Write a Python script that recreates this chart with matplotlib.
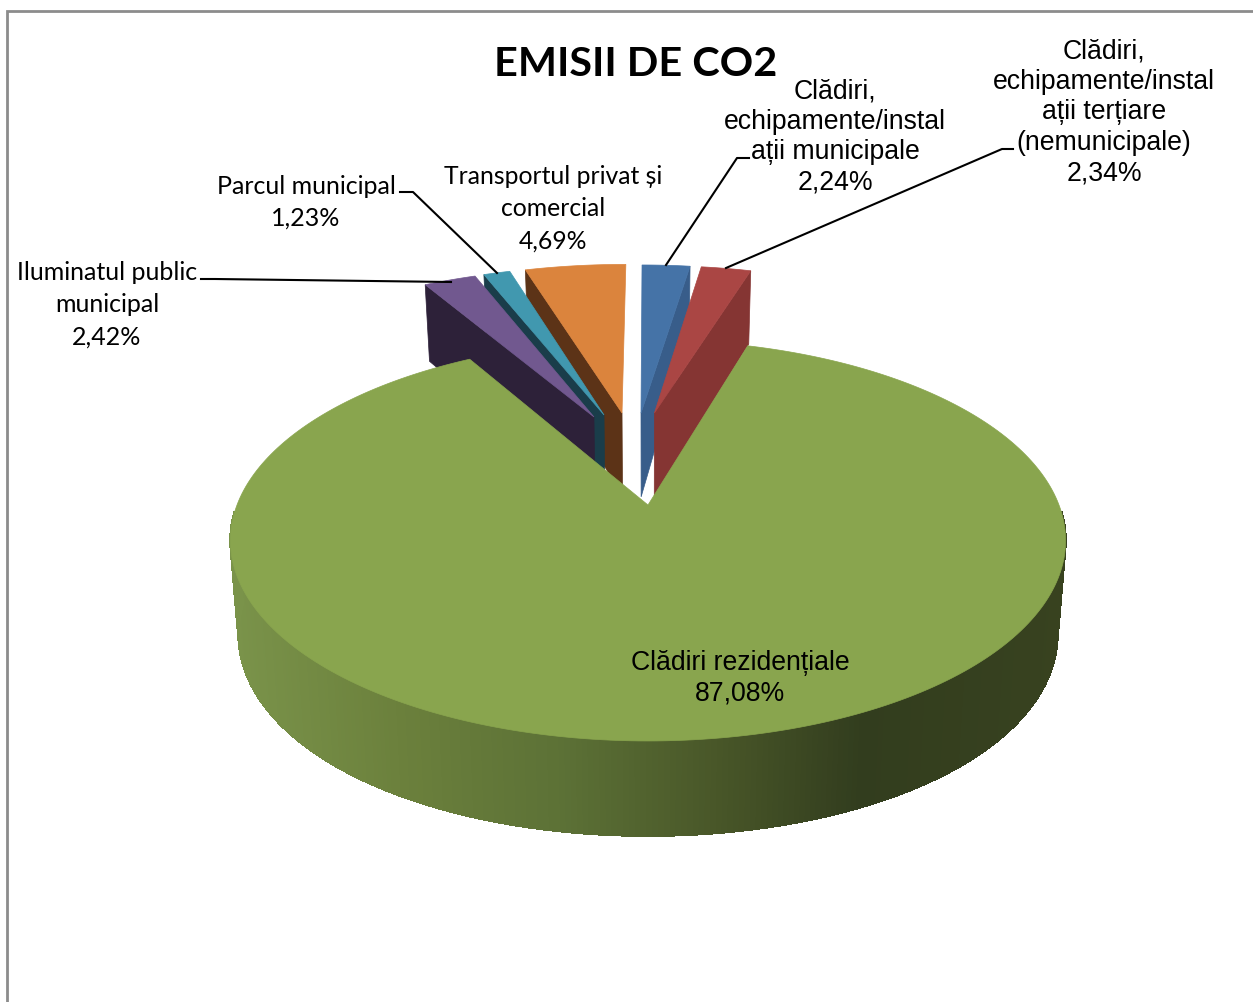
import numpy as np
import matplotlib
matplotlib.use("Agg")
from matplotlib import pyplot as plt
from matplotlib.patches import Polygon

# chart data, clockwise from 12 o'clock
labels = [
    ["Clădiri,", "echipamente/instal", "ații municipale", "2,24%"],
    ["Clădiri,", "echipamente/instal", "ații terțiare", "(nemunicipale)", "2,34%"],
    ["Clădiri rezidențiale", "87,08%"],
    ["Iluminatul public", "municipal", "2,42%"],
    ["Parcul municipal", "1,23%"],
    ["Transportul privat și", "comercial", "4,69%"],
]
values = [2.24, 2.34, 87.08, 2.42, 1.23, 4.69]
title = "EMISII DE CO2"

# look of the slices
top_colors = ["#4573a7", "#aa4644", "#89a54e", "#71588f", "#4198af", "#db843d"]
side_colors = ["#385d8a", "#853533", "#38421f", "#2d2139", "#1a3d4a", "#5c3317"]
shift_u = [-0.0186, 0.017, 0.0, -0.143, -0.1166, -0.069]
shift_v = [0.517, 0.517, 0.0, 0.493, 0.505, 0.517]
radius = [1.065, 1.06, 1.0, 1.07, 1.07, 1.07]
wall_side = [1, 1, 0, 0, 0, 0]  # 1: right wall visible, 0: left wall
rim_drop = [0, 8, 0, 9, 0, 0]  # extra wall height at the rim, pixels
draw_order = [5, 4, 3, 0, 1]

# perspective of the disc (pixels)
X0, Y0 = 648.0, 505.0
A, B, K = 411.0, 194.2, 0.177
A2, B2, K2, Y02 = 403.0, 206.0, 0.14, 596.2

# wall gradient of the big slice, by screen x
grad_x = [230, 400, 560, 720, 860, 1066]
grad_rgb = np.array([[122, 147, 74], [107, 128, 60], [92, 113, 54],
                     [72, 86, 40], [50, 61, 30], [56, 66, 31]]) / 255.0


def top_xy(u, v):
    w = 1 + K * v
    return X0 + A * u / w, Y0 - B * v / w


def bottom_xy(u, v):
    return X0 + A2 * u / (1 + K * v), Y02 - B2 * v / (1 + K2 * v)


def arc_uv(i, t0, t1, n=40):
    t = np.radians(np.linspace(t0, t1, n))
    return shift_u[i] + radius[i] * np.sin(t), shift_v[i] + radius[i] * np.cos(t)


def put_label(ax, lines, cx, y0, step, family, size):
    for n, line in enumerate(lines):
        ax.text(cx, y0 + n * step, line, ha="center", va="center",
                family=family, fontsize=size, color="black")


fig = plt.figure(figsize=(12.53, 10.02), dpi=100)
ax = fig.add_axes([0, 0, 1, 1])
ax.set_xlim(0, 1253)
ax.set_ylim(1002, 0)
ax.axis("off")

# chart frame, only top and left are in the picture
ax.plot([1253, 7, 7], [11, 11, 1002], color="#8c8c8c", lw=2.0, solid_joinstyle="miter")

edges = np.cumsum([0] + values) / sum(values) * 360.0

# exploded small slices, back to front
for i in draw_order:
    u, v = arc_uv(i, edges[i], edges[i + 1])
    k = -1 if wall_side[i] else 0
    tx, ty = top_xy(np.array([shift_u[i], u[k]]), np.array([shift_v[i], v[k]]))
    bx, by = bottom_xy(np.array([shift_u[i], u[k]]), np.array([shift_v[i], v[k]]))
    by[1] += rim_drop[i]
    wall = np.column_stack([np.r_[tx, bx[::-1]], np.r_[ty, by[::-1]]])
    ax.add_patch(Polygon(wall, closed=True, fc=side_colors[i], ec=side_colors[i], lw=0.5))
    fx, fy = top_xy(np.r_[shift_u[i], u], np.r_[shift_v[i], v])
    ax.add_patch(Polygon(np.column_stack([fx, fy]), closed=True,
                         fc=top_colors[i], ec=top_colors[i], lw=0.5))

# big slice: outer wall with shading, then top face
g = 2
t = np.linspace(max(edges[g], 92), min(edges[g + 1], 268), 260)
su, sv = np.sin(np.radians(t)), np.cos(np.radians(t))
tx, ty = top_xy(su, sv)
bx, by = bottom_xy(su, sv)
for j in range(len(t) - 1):
    mid = (tx[j] + tx[j + 1]) / 2
    c = [np.interp(mid, grad_x, grad_rgb[:, ch]) for ch in range(3)]
    quad = [(tx[j], ty[j]), (tx[j + 1], ty[j + 1]), (bx[j + 1], by[j + 1]), (bx[j], by[j])]
    ax.add_patch(Polygon(quad, closed=True, fc=c, ec=c, lw=1.0, antialiased=False))
u, v = arc_uv(g, edges[g], edges[g + 1], 300)
fx, fy = top_xy(np.r_[0.0, u], np.r_[0.0, v])
ax.add_patch(Polygon(np.column_stack([fx, fy]), closed=True,
                     fc=top_colors[g], ec=top_colors[g], lw=0.5))

# leader lines
leaders = [
    ([749, 737, 666], [158, 158, 265]),
    ([1013, 1002, 726], [149, 149, 268]),
    ([201, 215, 451], [279, 279, 282]),
    ([400, 413, 497], [192, 192, 273]),
]
for lx, ly in leaders:
    ax.plot(lx, ly, color="black", lw=1.5)

ARIAL = ["Liberation Sans", "DejaVu Sans"]
CALIBRI = ["Lato", "Noto Sans", "DejaVu Sans"]
put_label(ax, labels[0], 835, 91, 30.5, ARIAL, 19.2)
put_label(ax, labels[1], 1104, 51, 30.5, ARIAL, 19.2)
put_label(ax, labels[2], 740, 663, 30.5, ARIAL, 19.2)
put_label(ax, labels[3], 107, 272, 32.5, CALIBRI, 18)
put_label(ax, labels[4], 306, 186, 32, CALIBRI, 18)
put_label(ax, labels[5], 553, 176, 32.5, CALIBRI, 17.8)
ax.text(636, 64, title, ha="center", va="center", family=CALIBRI,
        fontsize=29.8, fontweight="bold", color="black")

fig.savefig("out.png", dpi=100)
